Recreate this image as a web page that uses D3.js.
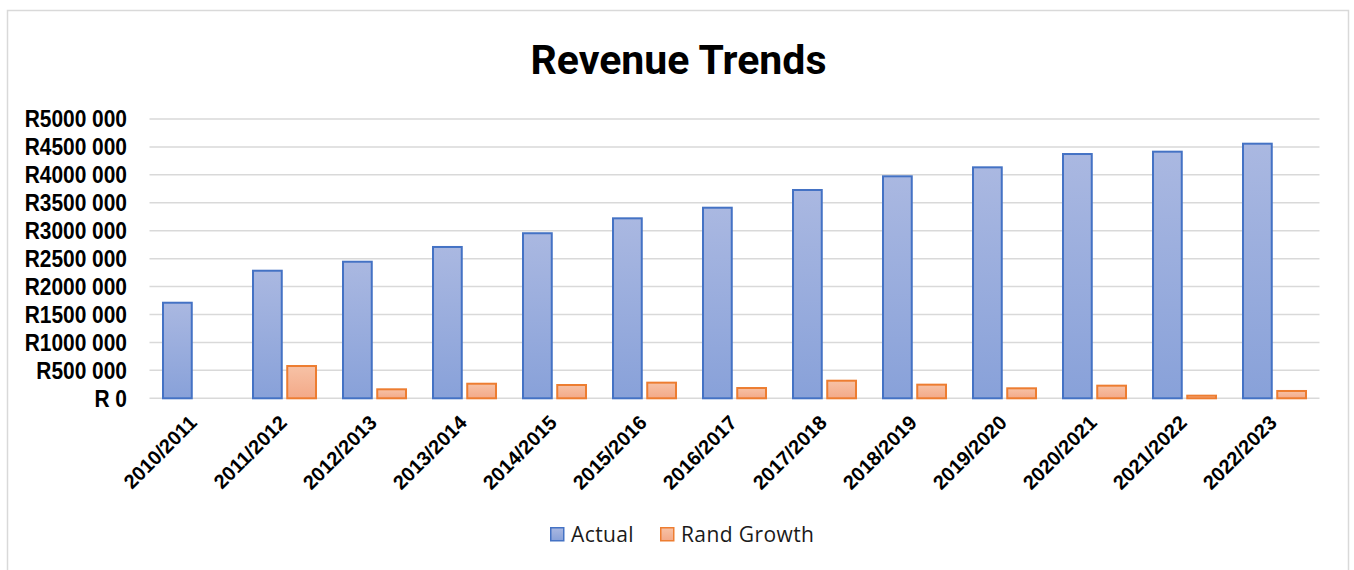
<!DOCTYPE html>
<meta charset="utf-8">
<style>
    body { margin: 0; background: #fff; }
    .title { font-family: Roboto, "Liberation Sans", sans-serif; font-weight: bold; font-size: 41px; fill: #000; }
    .tick-lbl { font-family: "Liberation Sans", Arial, sans-serif; font-weight: bold; fill: #000; }
    .legend text { font-family: "Open Sans", "Noto Sans", sans-serif; font-size: 21px; letter-spacing: 0.4px; fill: #1a1a1a; }
</style>
<svg width="1354" height="570"></svg>
<script src="https://d3js.org/d3.v7.min.js"></script>
<script>

var years = ["2010/2011", "2011/2012", "2012/2013", "2013/2014", "2014/2015", "2015/2016", "2016/2017",
             "2017/2018", "2018/2019", "2019/2020", "2020/2021", "2021/2022", "2022/2023"];
var actual = [1711000, 2284000, 2445000, 2709000, 2955000, 3222000, 3412000,
              3729000, 3974000, 4135000, 4373000, 4415000, 4558000];
var randGrowth = [0, 578000, 161000, 261000, 238000, 280000, 184000,
                  315000, 244000, 179000, 226000, 47000, 131000];
var yTicks = [0, 500000, 1000000, 1500000, 2000000, 2500000, 3000000, 3500000, 4000000, 4500000, 5000000];
var seriesNames = ["Actual", "Rand Growth"];

var svg = d3.select("svg");

// outer frame
svg.append("rect")
    .attr("x", 7.5).attr("y", 10.5)
    .attr("width", 1341).attr("height", 600)
    .attr("fill", "none").attr("stroke", "#d9d9d9").attr("stroke-width", 1.5);

var defs = svg.append("defs");
function grad(id, top, bottom) {
    var g = defs.append("linearGradient").attr("id", id)
        .attr("x1", 0).attr("y1", 0).attr("x2", 0).attr("y2", 1);
    g.append("stop").attr("offset", "0%").attr("stop-color", top);
    g.append("stop").attr("offset", "100%").attr("stop-color", bottom);
}
grad("gBlue", "#aab8e1", "#88a1d9");
grad("gOrange", "#f7c2a6", "#f3a988");

svg.append("text").attr("class", "title")
    .attr("x", 678.5).attr("y", 74)
    .attr("text-anchor", "middle")
    .text("Revenue Trends");

var x0 = d3.scaleBand().domain(years).range([149.5, 1319.5]).paddingInner(0.3).paddingOuter(0.15);
var x1 = d3.scaleBand().domain(seriesNames).range([0, x0.bandwidth()]).paddingInner(0.16);
var y = d3.scaleLinear().domain([0, 5000000]).range([398.3, 119]);

// gridlines
svg.append("g").selectAll("line")
    .data(yTicks)
    .enter().append("line")
    .attr("x1", 149.5).attr("x2", 1319.5)
    .attr("y1", function(d) { return y(d); })
    .attr("y2", function(d) { return y(d); })
    .attr("stroke", "#d9d9d9").attr("stroke-width", 1.5);

// y labels
var fmt = function(d) {
    if (d === 0) return "R 0";
    var k = Math.floor(d / 1000);
    return "R" + k + " 000";
};
svg.append("g").selectAll("text")
    .data(yTicks)
    .enter().append("text")
    .attr("class", "tick-lbl")
    .attr("transform", function(d) { return "translate(127," + y(d) + ") scale(0.91,1)"; })
    .attr("dy", "0.36em")
    .attr("text-anchor", "end")
    .style("font-size", "23px")
    .text(fmt);

// bars
var groups = svg.append("g").selectAll("g")
    .data(years)
    .enter().append("g")
    .attr("transform", function(d) { return "translate(" + x0(d) + ",0)"; });

groups.append("rect")
    .attr("x", x1("Actual"))
    .attr("width", x1.bandwidth())
    .attr("y", function(d, i) { return y(actual[i]); })
    .attr("height", function(d, i) { return y(0) - y(actual[i]); })
    .attr("fill", "url(#gBlue)").attr("stroke", "#4472c4").attr("stroke-width", 2);

groups.filter(function(d, i) { return randGrowth[i] > 0; })
    .append("rect")
    .attr("x", x1("Rand Growth"))
    .attr("width", x1.bandwidth())
    .attr("y", function(d) { return y(randGrowth[years.indexOf(d)]); })
    .attr("height", function(d) { return y(0) - y(randGrowth[years.indexOf(d)]); })
    .attr("fill", "url(#gOrange)").attr("stroke", "#ed7d31").attr("stroke-width", 2);

// x labels
svg.append("g").selectAll("text")
    .data(years)
    .enter().append("text")
    .attr("class", "tick-lbl")
    .style("font-size", "20px")
    .attr("text-anchor", "end")
    .attr("transform", function(d) {
        return "translate(" + (x0(d) + x0.bandwidth() / 2 + 3.5) + ",424) rotate(-45)";
    })
    .text(function(d) { return d; });

// legend
var legend = svg.append("g").attr("class", "legend");
var items = [{name: "Actual", x: 550, fill: "url(#gBlue)", stroke: "#4472c4"},
             {name: "Rand Growth", x: 660, fill: "url(#gOrange)", stroke: "#ed7d31"}];
items.forEach(function(it) {
    legend.append("rect")
        .attr("x", it.x + 0.75).attr("y", 527.75)
        .attr("width", 13).attr("height", 13)
        .attr("fill", it.fill).attr("stroke", it.stroke).attr("stroke-width", 1.5);
    legend.append("text")
        .attr("x", it.x + 21).attr("y", 542)
        .text(it.name);
});

</script>
